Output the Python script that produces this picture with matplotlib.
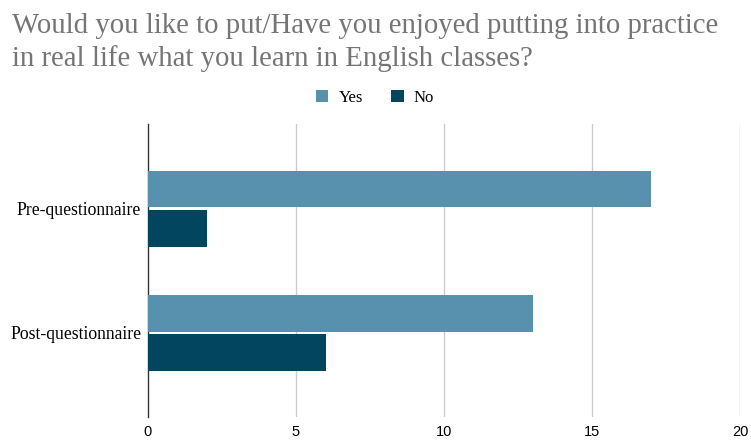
import matplotlib
matplotlib.use('Agg')
import matplotlib.pyplot as plt
import numpy as np

# Data
categories = ['Pre-questionnaire', 'Post-questionnaire']
yes_counts = [17, 13]
no_counts = [2, 6]
series_labels = ['Yes', 'No']
x_ticks = [0, 5, 10, 15, 20]

title_text = ('Would you like to put/Have you enjoyed putting into practice\n'
              'in real life what you learn in English classes?')

yes_color = '#5891ad'
no_color = '#02455f'


def main():
    fig = plt.figure(figsize=(7.51, 4.41), dpi=100)
    ax = fig.add_axes([148 / 751, 24 / 441, 592 / 751, 293 / 441])

    y = np.arange(len(categories))
    bar_h = 0.295
    ax.barh(y - 0.155, yes_counts, height=bar_h, color=yes_color, label=series_labels[0], zorder=3)
    ax.barh(y + 0.16, no_counts, height=bar_h, color=no_color, label=series_labels[1], zorder=3)

    ax.set_xlim(0, 20)
    ax.set_ylim(1.68, -0.68)
    ax.set_xticks(x_ticks)
    ax.set_xticklabels([str(t) for t in x_ticks], fontfamily='Liberation Sans', fontsize=10.5)
    ax.set_yticks(y)
    ax.set_yticklabels(categories, fontfamily='Liberation Serif', fontsize=12.7)
    ax.tick_params(axis='both', length=0)
    ax.tick_params(axis='x', pad=6)
    ax.tick_params(axis='y', pad=5)

    # vertical grid only, dark line at zero
    for t in x_ticks[1:]:
        ax.axvline(t, color='#cccccc', lw=1, zorder=1)
    for s in ['top', 'right', 'bottom']:
        ax.spines[s].set_visible(False)
    ax.spines['left'].set_color('#333333')
    ax.spines['left'].set_linewidth(1)

    fig.text(12 / 751, 1 - 13 / 441, title_text, fontfamily='Liberation Serif', fontsize=20.7,
             color='#757575', va='top', ha='left', linespacing=1.3)

    fig.legend(loc='center', bbox_to_anchor=(375 / 751, 1 - 98 / 441), ncol=2, frameon=False,
               prop={'family': 'Liberation Serif', 'size': 12}, handlelength=0.75, handleheight=0.75,
               columnspacing=1.7, handletextpad=0.6)

    fig.savefig('out.png', dpi=100)


if __name__ == '__main__':
    main()
